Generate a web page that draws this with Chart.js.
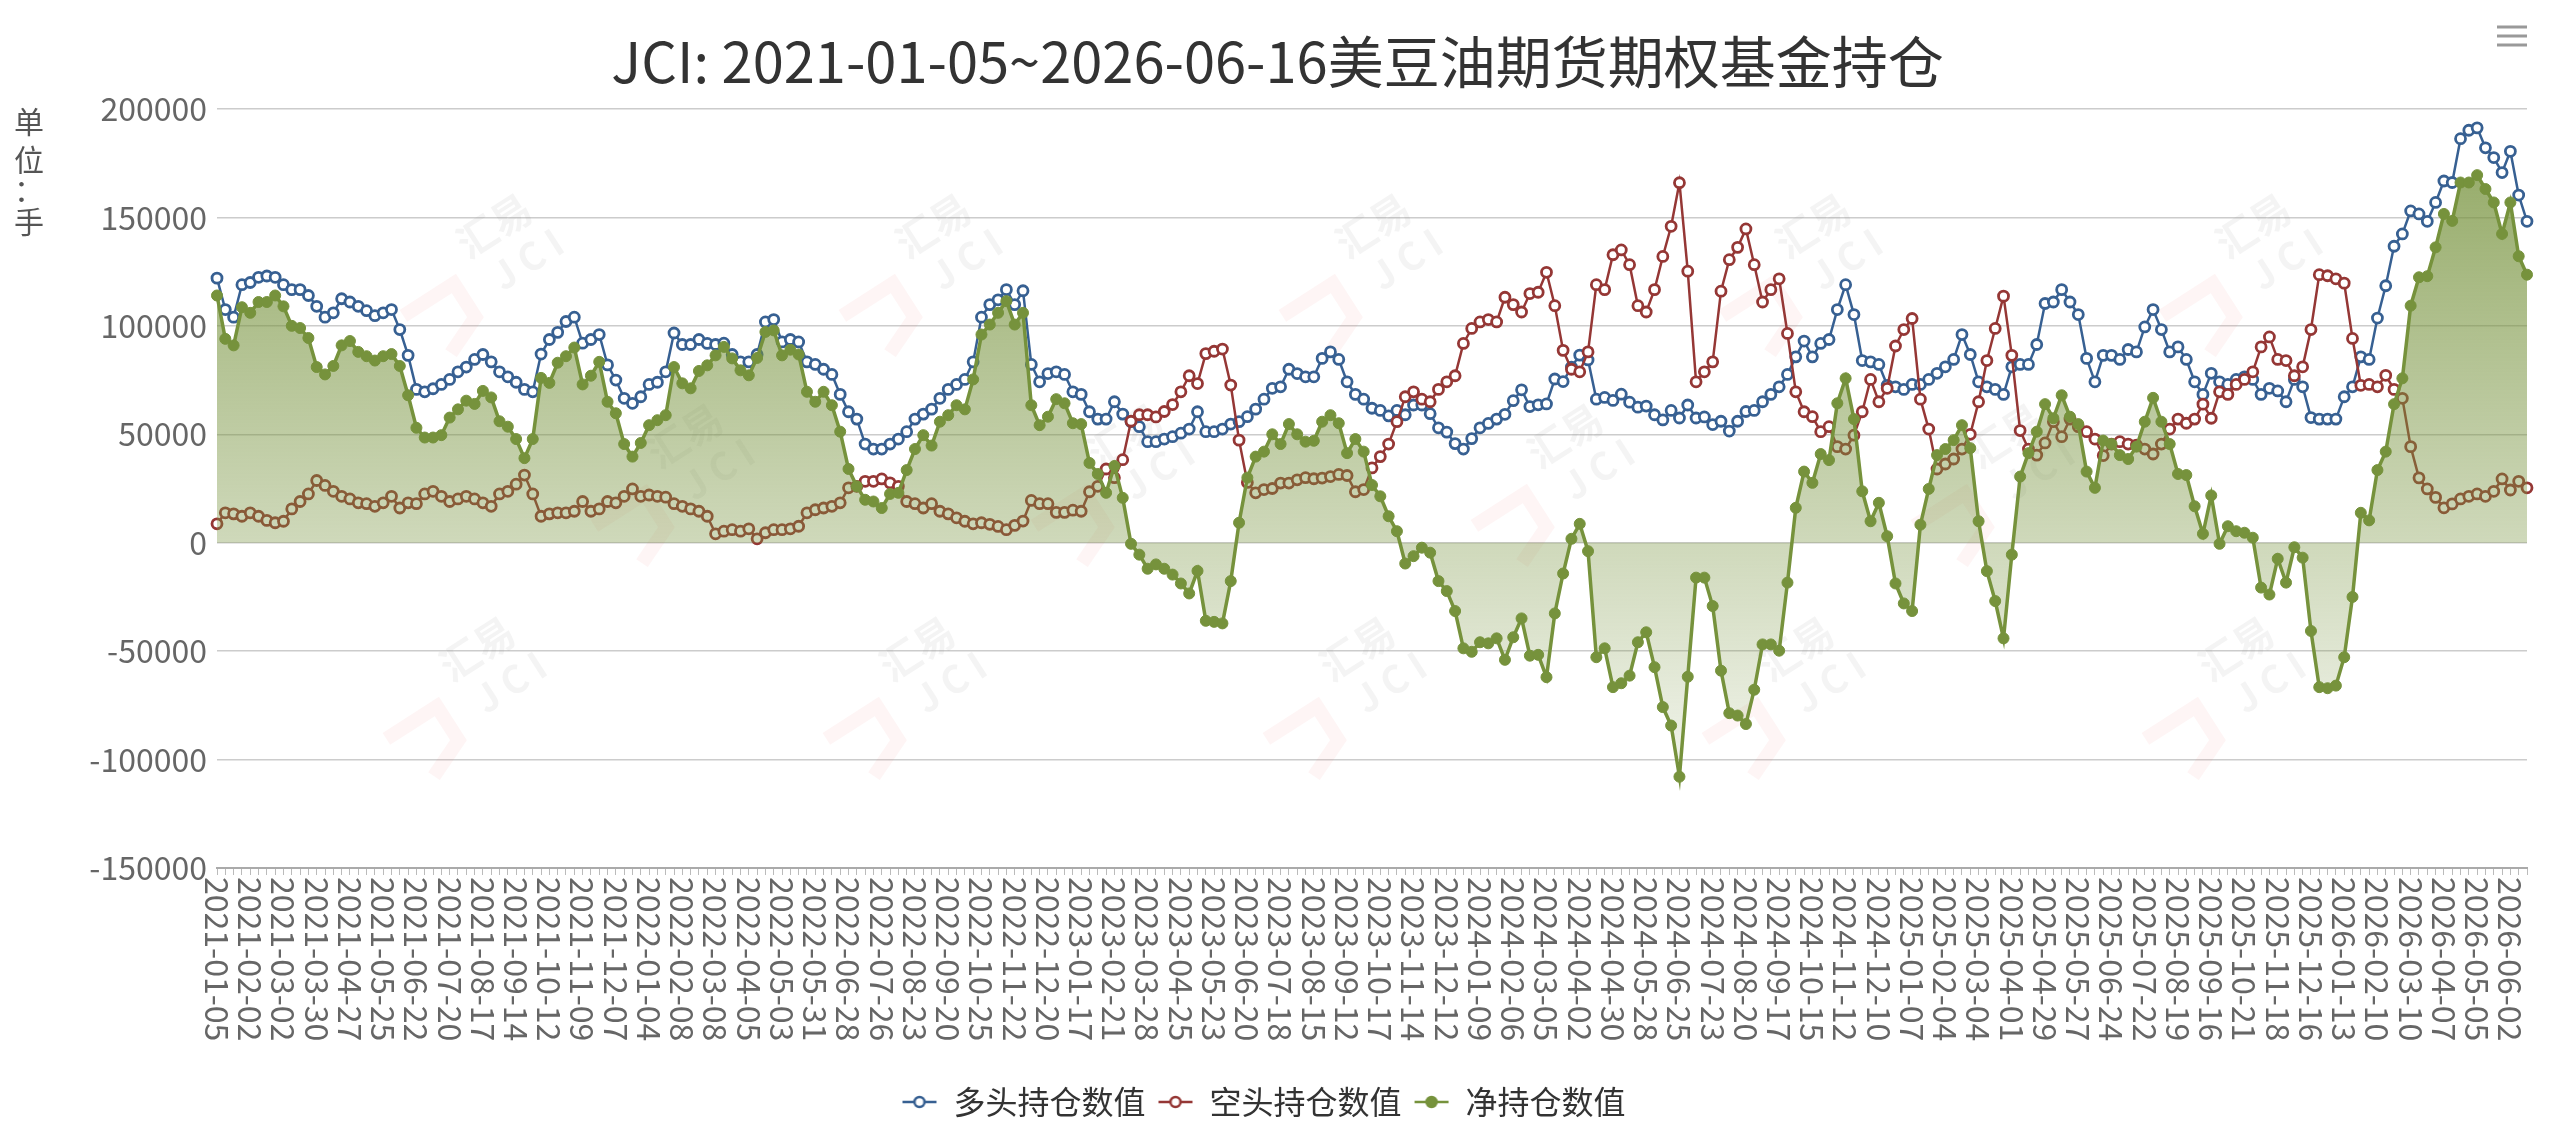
<!DOCTYPE html>
<html>
<head>
<meta charset="utf-8">
<title>美豆油期货期权基金持仓</title>
<script src="https://cdn.jsdelivr.net/npm/chart.js@4.4.1/dist/chart.umd.min.js"></script>
<style>
  html, body { margin: 0; padding: 0; background: #fff; }
  #wrap { width: 2555px; height: 1143px; position: relative; }
</style>
</head>
<body>
<div id="wrap"><canvas id="canv"></canvas></div>
<script>
const titleText = 'JCI: 2021-01-05~2026-06-16美豆油期货期权基金持仓';
const unitText = ['单', '位', '：', '手'];
const seriesNames = ['多头持仓数值', '空头持仓数值', '净持仓数值'];

// dates printed under the x axis (every 4th week)
const tickDates = [
  '2021-01-05', '2021-02-02', '2021-03-02', '2021-03-30', '2021-04-27', '2021-05-25', '2021-06-22',
  '2021-07-20', '2021-08-17', '2021-09-14', '2021-10-12', '2021-11-09', '2021-12-07',
  '2022-01-04', '2022-02-08', '2022-03-08', '2022-04-05', '2022-05-03', '2022-05-31', '2022-06-28',
  '2022-07-26', '2022-08-23', '2022-09-20', '2022-10-25', '2022-11-22', '2022-12-20',
  '2023-01-17', '2023-02-21', '2023-03-28', '2023-04-25', '2023-05-23', '2023-06-20',
  '2023-07-18', '2023-08-15', '2023-09-12', '2023-10-17', '2023-11-14', '2023-12-12',
  '2024-01-09', '2024-02-06', '2024-03-05', '2024-04-02', '2024-04-30', '2024-05-28', '2024-06-25',
  '2024-07-23', '2024-08-20', '2024-09-17', '2024-10-15', '2024-11-12', '2024-12-10',
  '2025-01-07', '2025-02-04', '2025-03-04', '2025-04-01', '2025-04-29', '2025-05-27', '2025-06-24',
  '2025-07-22', '2025-08-19', '2025-09-16', '2025-10-21', '2025-11-18', '2025-12-16',
  '2026-01-13', '2026-02-10', '2026-03-10', '2026-04-07', '2026-05-05', '2026-06-02'
];
const lastDate = '2026-06-16';

const longPos = [
  122000, 107500, 104000, 119000, 120000, 122400, 123000, 122400, 119000, 116700,
  116700, 114000, 109000, 104000, 106000, 112500, 111000, 109000, 107000, 104700,
  106000, 107500, 98300, 86400, 70700, 69600, 71000, 73000, 75300, 78800,
  81000, 84500, 86800, 83400, 78800, 76500, 74000, 70700, 69600, 87000,
  93700, 97000, 102000, 104000, 92000, 93700, 96000, 82000, 75000, 66600,
  64300, 67300, 73000, 74000, 78800, 96700, 91400, 91400, 93700, 91900,
  91400, 92000, 86800, 83400, 83400, 86800, 101800, 102900, 92600, 93700,
  92600, 83400, 82200, 80000, 77600, 68400, 60400, 57000, 45500, 43200,
  43200, 45500, 47800, 51200, 57000, 59300, 61600, 66600, 70700, 73000,
  75300, 83400, 104000, 109800, 112000, 116700, 109800, 116200, 82200, 74200,
  78000, 78800, 77600, 69600, 68400, 60400, 57000, 57000, 65000, 59300,
  55800, 53500, 46600, 46600, 47800, 48900, 50500, 52400, 60400, 51200,
  51200, 52400, 54700, 55800, 58100, 61600, 66200, 71200, 71900, 80000,
  78000, 76500, 76500, 85000, 88000, 84500, 74200, 68400, 66200, 62000,
  61000, 58500, 61000, 59000, 63500, 63500, 59500, 53000, 51000, 45700,
  43200, 48000, 53000, 55000, 57000, 59200, 65500, 70500, 62800, 63600,
  64000, 75500, 74300, 81000, 86500, 84300, 66200, 67000, 65600, 68500,
  64800, 62500, 63000, 59000, 56600, 61000, 57500, 63500, 57500, 58000,
  54500, 56000, 51500, 56000, 60500, 61000, 65000, 68400, 71900, 77600,
  85700, 93000, 85700, 91900, 93700, 107500, 119000, 105200, 84000, 83400,
  82200, 72600, 71900, 70700, 73000, 73000, 75300, 78100, 81100, 84500,
  96000, 86800, 74200, 71900, 70700, 68400, 81100, 82200, 82200, 91400,
  110300, 111000, 116700, 111000, 105200, 85000, 74200, 86400, 86400, 84500,
  89100, 88000, 99500, 107500, 98300, 88000, 90300, 84500, 74200, 68400,
  78100, 74200, 73000, 75300, 76500, 75300, 68400, 71200, 70000, 65000,
  75300, 71900, 57700, 57000, 57000, 57000, 67300, 71900, 85700, 84500,
  103600, 118500, 136700, 142400, 153000, 151600, 148200, 156900, 166800, 166100,
  186300, 190200, 191300, 182100, 177600, 170700, 180500, 160300, 148200
];

const shortPos = [
  8700, 13800, 13300, 12200, 13800, 12200, 10300, 9200, 9900, 15600,
  19000, 22500, 28700, 26400, 23700, 21400, 20200, 18400, 18000, 16800,
  18400, 21400, 16000, 18400, 18000, 22500, 23700, 21400, 19000, 20200,
  21400, 20200, 18400, 16800, 22500, 23700, 27000, 31200, 22500, 12200,
  13300, 13800, 13800, 14500, 19000, 14500, 15600, 19000, 18400, 21400,
  24800, 21400, 22000, 21400, 21000, 18000, 16800, 15600, 14500, 12200,
  4100, 5300, 6000, 5300, 6400, 1800, 4600, 6000, 6000, 6400,
  7600, 13800, 15200, 16000, 16800, 18400, 25300, 26000, 28300, 28300,
  29400, 27600, 26000, 19000, 18000, 16000, 18000, 14500, 13300, 11500,
  9900, 8700, 9200, 8500, 7500, 6000, 8000, 10000, 19500, 18000,
  18000, 14000, 14000, 15000, 14500, 23500, 26000, 34000, 30000, 38300,
  56000, 59000, 59000, 58000, 60500, 63700, 69600, 77000, 73400, 87200,
  88300, 89300, 72700, 47300, 27800, 23000, 24500, 25000, 27500, 27500,
  29000, 30000, 29500, 29800, 30500, 31500, 31000, 23500, 24500, 34500,
  39700, 45500, 55800, 67300, 69600, 66200, 65000, 70700, 74200, 77000,
  91900, 98800, 101800, 102900, 101800, 113200, 109800, 106400, 114900, 115500,
  124700, 109300, 88700, 80000, 78800, 88000, 119000, 116700, 132800, 135000,
  128200, 109300, 106400, 116700, 132000, 145900, 166000, 125200, 74200, 78800,
  83400, 116000, 130500, 136200, 144700, 128200, 111000, 116700, 121700, 96500,
  69600, 60400, 58100, 51200, 53500, 44300, 43200, 49600, 60400, 75300,
  65000, 71200, 90700, 98300, 103400, 66200, 52400, 34000, 36300, 38600,
  43200, 50000, 65000, 84000, 98800, 113700, 86400, 51700, 43200, 40400,
  46000, 55800, 48900, 57000, 53500, 51200, 47800, 40200, 45500, 46600,
  45500, 45000, 43200, 40900, 45500, 52400, 57000, 55100, 57000, 63900,
  57400, 69600, 68400, 73000, 75300, 78800, 90300, 94900, 84500, 84000,
  77000, 81100, 98300, 123600, 123100, 121700, 119700, 94200, 72600, 73000,
  71900, 77200, 70700, 66600, 44300, 29900, 24800, 20900, 16100, 17900,
  20200, 21400, 22500, 21400, 23700, 29400, 24300, 28300, 25300
];

const netPos = [
  114000, 94000, 91000, 108600, 106000, 111000, 111000, 114000, 109000, 100000,
  99000, 94400, 81000, 77600, 81500, 91000, 93000, 88000, 86000, 84000,
  86000, 87000, 81500, 68000, 53000, 48500, 48500, 49600, 57700, 61500,
  65500, 64000, 70000, 67000, 56000, 53500, 47800, 39000, 47800, 76000,
  73700, 83000, 86000, 90000, 73000, 77000, 83400, 65000, 59700, 45500,
  39700, 46000, 54200, 56500, 58800, 81000, 73500, 71200, 79200, 81800,
  86400, 90300, 85000, 79500, 77200, 85200, 97200, 97900, 86400, 89000,
  86800, 69600, 65000, 69600, 63400, 51200, 34000, 26000, 19800, 19000,
  16000, 22500, 23000, 33500, 43200, 49600, 44800, 55800, 58800, 63400,
  61500, 75300, 96000, 100600, 106000, 111400, 100600, 106000, 63400, 54200,
  58100, 66200, 64300, 55100, 54700, 36800, 31700, 23000, 35400, 20700,
  -500, -5500, -12000, -10000, -12000, -14700, -18800, -23400, -13000, -36000,
  -36500, -37200, -17700, 9200, 30000, 39700, 42000, 50000, 45500, 54700,
  50000, 46600, 47000, 55800, 58800, 55100, 41300, 47800, 42000, 26600,
  21400, 12200, 5300, -9600, -6200, -2300, -4600, -17700, -22300, -31500,
  -48700, -50300, -45900, -46400, -44100, -54000, -43600, -34900, -52100, -51700,
  -62000, -32600, -14200, 1800, 8700, -3900, -52800, -48700, -66600, -64800,
  -61300, -45900, -41300, -57400, -75800, -84300, -107900, -61800, -16100, -16100,
  -29200, -59000, -78600, -79700, -83600, -67800, -46900, -46900, -49800, -18400,
  16100, 32800, 27600, 40900, 38100, 64300, 75800, 57000, 23700, 9900,
  18400, 3000, -18800, -28000, -31500, 8300, 24800, 40400, 43200, 47300,
  54200, 43600, 9900, -13100, -26900, -44100, -5500, 30500, 41300, 51200,
  63900, 57400, 68000, 58100, 54700, 32800, 25300, 47100, 45500, 40400,
  38600, 44300, 55800, 66800, 55800, 45500, 31700, 31200, 16800, 4100,
  21800, -500, 7600, 5300, 4600, 2300, -20700, -23900, -7400, -18400,
  -2100, -6900, -40700, -66600, -67100, -65900, -52800, -25000, 13800, 10300,
  33500, 42000, 63900, 75800, 109300, 122400, 122900, 136200, 151600, 148400,
  166100, 166100, 169500, 163100, 156900, 142400, 156900, 132100, 123600
];

const colors = ['#376092', '#953735', '#76923C'];

// weekly categories: each printed date plus the weeks up to the next one
function addDays(s, n) {
  const d = new Date(s + 'T00:00:00Z');
  d.setUTCDate(d.getUTCDate() + n);
  return d.toISOString().slice(0, 10);
}
const categories = [];
tickDates.forEach((d, k) => {
  const next = k < tickDates.length - 1 ? tickDates[k + 1] : addDays(lastDate, 7);
  for (let j = 0; j < 4; j++) {
    const day = addDays(d, 7 * j);
    if (day >= next) break;
    categories.push(day);
  }
});
const tickSet = new Set(tickDates);

const FONT = '"Noto Sans CJK SC", "Noto Sans", sans-serif';
Chart.defaults.font.family = FONT;

function legendIcon(color, filled) {
  const c = document.createElement('canvas');
  c.width = 36; c.height = 18;
  const x = c.getContext('2d');
  x.strokeStyle = color; x.lineWidth = 2.5;
  x.beginPath(); x.moveTo(1, 9); x.lineTo(35, 9); x.stroke();
  x.beginPath(); x.arc(18, 9, 5, 0, Math.PI * 2);
  x.fillStyle = filled ? color : '#fff';
  x.fill(); x.stroke();
  return c;
}
const legendIcons = [legendIcon(colors[0], false), legendIcon(colors[1], false), legendIcon(colors[2], true)];

const decor = {
  id: 'decor',
  beforeDatasetsDraw(chart) {
    // faint watermark tiles
    const ctx = chart.ctx;
    const spots = [
      [489, 255], [928, 255], [1368, 255], [1808, 255], [2248, 255],
      [680, 465], [1120, 465], [1560, 465], [2000, 465],
      [472, 678], [912, 678], [1352, 678], [1791, 678], [2231, 678]
    ];
    ctx.save();
    spots.forEach(([cx, cy]) => {
      ctx.save();
      ctx.translate(cx, cy);
      ctx.rotate(-Math.PI / 5.5);
      ctx.fillStyle = 'rgba(120,120,120,0.08)';
      ctx.font = 'bold 40px ' + FONT;
      ctx.textAlign = 'center';
      ctx.textBaseline = 'middle';
      ctx.fillText('汇易', 20, -22);
      ctx.font = 'bold 38px ' + FONT;
      ctx.fillText('J C I', 30, 24);
      ctx.strokeStyle = 'rgba(240,80,80,0.06)';
      ctx.lineWidth = 14;
      ctx.beginPath();
      ctx.moveTo(-105, 5); ctx.lineTo(-45, 5); ctx.lineTo(-45, 45); ctx.lineTo(-85, 62);
      ctx.stroke();
      ctx.restore();
    });
    ctx.restore();
  },
  afterDraw(chart) {
    const ctx = chart.ctx;
    const xs = chart.scales.x;
    ctx.save();
    // title
    ctx.fillStyle = '#333';
    ctx.font = '56px ' + FONT;
    ctx.textAlign = 'center';
    ctx.textBaseline = 'middle';
    ctx.fillText(titleText, chart.width / 2, 62);
    // unit label, stacked
    ctx.fillStyle = '#555';
    ctx.font = '30px ' + FONT;
    const ys = [122, 160, 190, 222];
    unitText.forEach((ch, i) => ctx.fillText(ch, 29, ys[i]));
    // menu icon
    ctx.strokeStyle = '#999';
    ctx.lineWidth = 3;
    [27, 36, 45].forEach(y => {
      ctx.beginPath(); ctx.moveTo(2497, y); ctx.lineTo(2527, y); ctx.stroke();
    });
    // rotated date labels
    ctx.fillStyle = '#666';
    ctx.font = '32px ' + FONT;
    ctx.textAlign = 'left';
    ctx.textBaseline = 'middle';
    categories.forEach((d, i) => {
      if (!tickSet.has(d)) return;
      ctx.save();
      ctx.translate(xs.getPixelForValue(i), xs.top + 9);
      ctx.rotate(Math.PI / 2);
      ctx.fillText(d, 0, 0);
      ctx.restore();
    });
    ctx.restore();
  }
};

const ctx = document.getElementById('canv').getContext('2d');
new Chart(ctx, {
  type: 'line',
  data: {
    labels: categories,
    datasets: [
      {
        label: seriesNames[0], data: longPos, order: 2,
        borderColor: colors[0], borderWidth: 2.5, fill: false,
        pointRadius: 5, pointBorderWidth: 2.8, pointBackgroundColor: '#fff', pointBorderColor: colors[0]
      },
      {
        label: seriesNames[1], data: shortPos, order: 1,
        borderColor: colors[1], borderWidth: 2.5, fill: false,
        pointRadius: 5, pointBorderWidth: 2.8, pointBackgroundColor: '#fff', pointBorderColor: colors[1]
      },
      {
        label: seriesNames[2], data: netPos, order: 0,
        borderColor: colors[2], borderWidth: 3.5, fill: 'origin',
        backgroundColor: (c) => {
          const a = c.chart.chartArea;
          if (!a) return 'rgba(118,146,60,0.4)';
          const g = c.chart.ctx.createLinearGradient(0, a.top, 0, a.bottom);
          g.addColorStop(0, 'rgba(118,146,60,0.82)');
          g.addColorStop(1, 'rgba(118,146,60,0)');
          return g;
        },
        pointRadius: 5.5, pointBorderWidth: 1, pointBackgroundColor: colors[2], pointBorderColor: colors[2]
      }
    ]
  },
  options: {
    responsive: true,
    maintainAspectRatio: false,
    devicePixelRatio: 1,
    animation: false,
    layout: { padding: { top: 109, left: 0, right: 28, bottom: 15 } },
    scales: {
      x: {
        type: 'category',
        offset: false,
        grid: { display: true, drawOnChartArea: false, drawTicks: true, tickLength: 7, color: '#bbb', lineWidth: 1 },
        border: { display: true, color: '#aaa', width: 2 },
        ticks: { display: false, autoSkip: false },
        afterFit: (s) => { s.height = 206; }
      },
      y: {
        min: -150000, max: 200000,
        grid: { color: '#ccc', lineWidth: 1.5, drawTicks: false },
        border: { display: false },
        ticks: {
          stepSize: 50000, padding: 10, color: '#666',
          font: { size: 32 },
          callback: (v) => String(v)
        },
        afterFit: (s) => { s.width = 217; }
      }
    },
    plugins: {
      title: { display: false },
      tooltip: { enabled: false },
      legend: {
        position: 'bottom',
        labels: {
          usePointStyle: true,
          pointStyleWidth: 36,
          boxHeight: 18,
          padding: 12,
          color: '#333',
          font: { size: 32 },
          generateLabels: (chart) => chart.data.datasets.map((ds, i) => ({
            text: ds.label,
            pointStyle: legendIcons[i],
            fillStyle: 'transparent',
            strokeStyle: 'transparent',
            lineWidth: 0,
            fontColor: '#333',
            hidden: false,
            datasetIndex: i
          }))
        }
      }
    }
  },
  plugins: [decor]
});
</script>
</body>
</html>
